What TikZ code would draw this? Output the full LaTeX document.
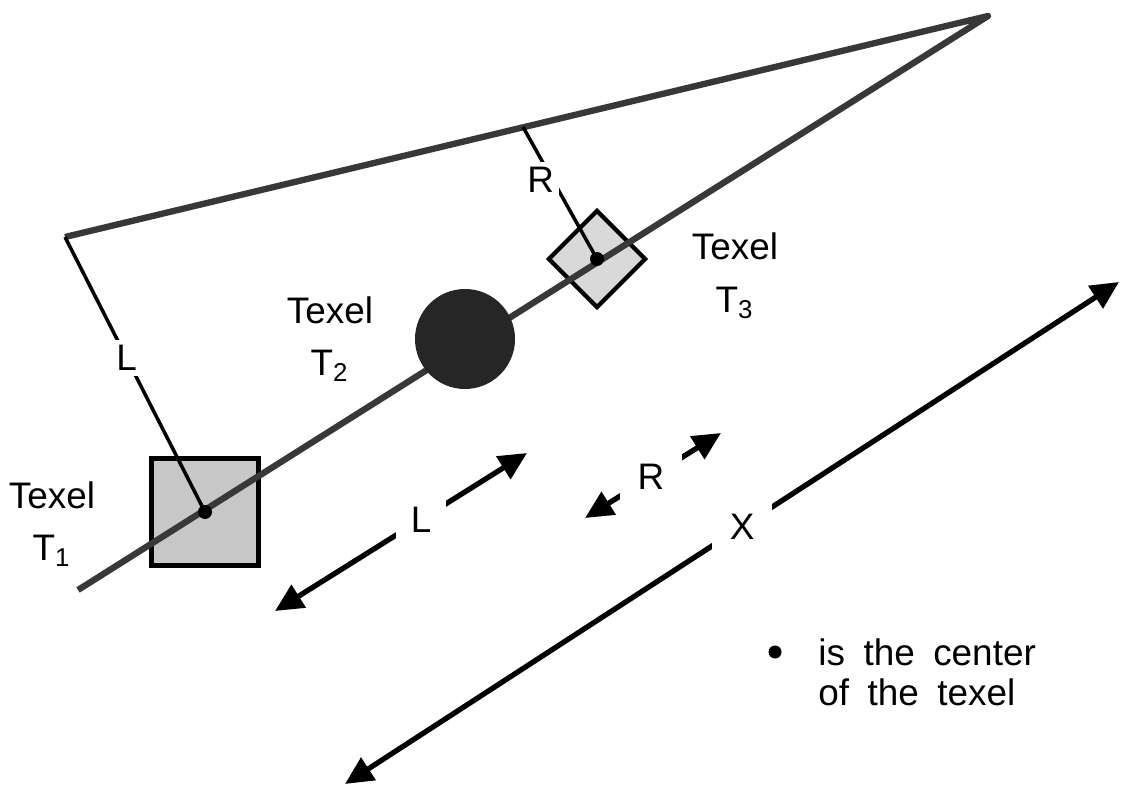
\documentclass[tikz,border=0pt]{standalone}
\usepackage{fontspec}
\setmainfont{Liberation Sans}
\usetikzlibrary{arrows.meta,positioning}
\newcommand\keyfont{\fontsize{10.5}{11.5}\selectfont\spaceskip=0.5em plus 0pt\relax}
\tikzset{
  axisline/.style={line width=1.8pt,draw=black!78,line join=round},
  ray/.style={line width=1pt},
  span/.style={line width=1.5pt,{Triangle[length=2.8mm,width=2.6mm]}-{Triangle[length=2.8mm,width=2.6mm]}},
  gap/.style={fill=white,inner sep=1.8mm},
  texel/.style={align=center,font=\fontsize{10.5}{15}\selectfont},
  keytext/.style={align=left,font=\keyfont}
}

\begin{document}
\begin{tikzpicture}[x=0.1mm,y=-0.1mm,every node/.style={font=\fontsize{10.5}{13}\selectfont}]
\useasboundingbox (0,0) rectangle (1131,788);
\coordinate (tail) at (78,590);
\coordinate (apex) at (988,16);
\coordinate (corner) at (65,237);
\coordinate (foot) at (523,127);
\node[draw,line width=1.2pt,fill=black!22,minimum size=10.7mm,inner sep=0] (t1) at (205,512) {};
\node[draw,line width=1.2pt,fill=black!15,minimum size=6.8mm,rotate=45,inner sep=0] (t3) at (597,259) {};
\draw[axisline] (tail)--(apex)--(corner);
\node[circle,fill=black!85,minimum size=10mm,inner sep=0] (t2) at (465,339) {};
\draw[ray] (corner)--node[pos=.44,fill=white,inner sep=1.5pt]{L}(t1.center);
\draw[ray] (foot)--node[pos=.4,xshift=-1.2mm,fill=white,inner sep=1.5pt]{R}(t3.center);
\fill (t1.center) circle (0.7mm);
\fill (t3.center) circle (0.7mm);
\node[texel] (lab1) at (52,524) {Texel\\T\textsubscript{1}};
\node[texel] (lab2) at (330,339) {Texel\\T\textsubscript{2}};
\node[texel] (lab3) at (735,276) {Texel\\T\textsubscript{3}};
\coordinate (la) at (275,611);
\coordinate (lb) at (527,453);
\coordinate (ra) at (585,518);
\coordinate (rb) at (721,433);
\coordinate (xa) at (345,784);
\coordinate (xb) at (1119,282);
\draw[span] (la)--node[pos=.58,gap,inner sep=1.5mm]{L}(lb);
\draw[span] (ra)--node[pos=.485,gap]{R}(rb);
\draw[span] (xa)--node[pos=.513,gap]{X}(xb);
\node[circle,fill,inner sep=0,minimum size=1.3mm] (keydot) at (775,652) {};
\node[keytext,anchor=north west] (key) at (806,626) {is the center\\of the texel};
\end{tikzpicture}
\end{document}
